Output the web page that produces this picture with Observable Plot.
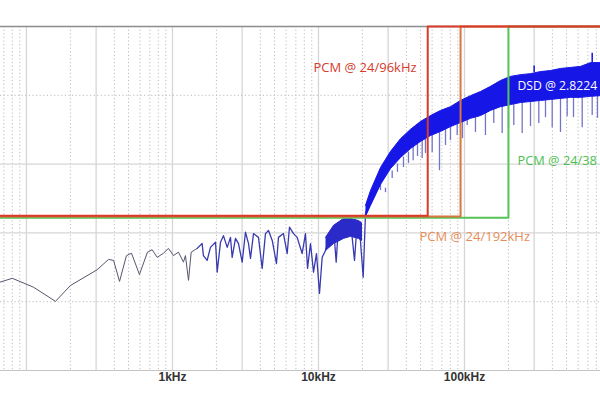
<!DOCTYPE html>
<html>
<head>
<meta charset="utf-8">
<script src="https://cdn.jsdelivr.net/npm/d3@7"></script>
<script src="https://cdn.jsdelivr.net/npm/@observablehq/plot@0.6"></script>
<style>
  html, body { margin: 0; padding: 0; background: #fff; }
  #chart { width: 600px; height: 400px; overflow: hidden; }
</style>
</head>
<body>
<div id="chart"></div>
<script>
// ---------- data (frequency in Hz, level in dB relative to top gridline) ----------
const tickValues = [1000, 10000, 100000];
const tickLabels = ["1kHz", "10kHz", "100kHz"];

// low-frequency part of the spectrum (thin trace)
const lowFreq = [66, 80, 112, 158, 200, 305, 365, 395, 434, 484, 524, 594, 674, 726, 786, 868, 939, 1016, 1099, 1189, 1227, 1288, 1343, 1477];
const lowDb   = [-74.3, -73.2, -75.8, -79.9, -75.3, -70.7, -67.7, -68.0, -74.1, -66.6, -65.9, -72.1, -65.6, -64.9, -67.1, -65.9, -64.5, -66.6, -65.6, -68.5, -66.6, -73.8, -65.6, -64.5];

// mid part (1.5 kHz – 22 kHz), noisy trace
const midFreq = [1477, 1596, 1629, 1728, 1820, 1972, 2024, 2133, 2235, 2371, 2496, 2563, 2702, 2833, 3002, 3162, 3318, 3423, 3589, 3882, 4115, 4335, 4546, 4822, 5156, 5322, 5754, 6106, 6330, 6745, 7145, 7728, 8147, 8414, 8818, 9247, 9690, 10160, 10600, 11170, 11700, 12670, 13220, 13710, 14830, 15730, 16560, 17650, 18410, 19100, 20240, 20990, 21990];
const midDb   = [-64.5, -63.1, -66.6, -68.0, -64.2, -62.7, -71.4, -62.7, -60.8, -64.2, -61.3, -67.1, -61.6, -63.1, -68.5, -59.8, -63.1, -67.4, -60.2, -61.3, -70.3, -60.2, -59.3, -62.2, -68.9, -61.3, -60.2, -66.0, -58.3, -60.2, -61.3, -66.0, -60.2, -70.3, -63.1, -71.4, -66.0, -77.6, -67.1, -65.1, -62.2, -58.3, -68.5, -57.8, -56.4, -59.3, -56.4, -68.0, -56.9, -58.7, -72.9, -54.4, -51.1];

// dense part of the mid trace (11 kHz – 20 kHz)
const midBandFreq  = [11170, 12670, 14830, 16560, 18790, 19700];
const midBandUpper = [-61.3, -57.8, -55.8, -55.8, -56.4, -57.0];
const midBandLower = [-65.1, -63.1, -61.6, -61.0, -61.6, -62.2];

// high-frequency noise band (DSD noise shaping), upper / lower edges
const bandFreq  = [20980, 22710, 26590, 31140, 36440, 42670, 49950, 58500, 68480, 80190, 93890, 109900, 128700, 150700, 176400, 206600, 241900, 283200, 331600, 388200, 454500, 532100, 623100, 729500, 854200];
const bandUpper = [-52.0, -47.7, -41.0, -36.3, -32.6, -29.9, -27.6, -25.9, -24.4, -23.3, -21.5, -20.1, -18.9, -17.4, -15.7, -14.5, -14.0, -13.7, -13.1, -12.8, -12.2, -11.9, -11.6, -10.5, -10.5];
const bandLower = [-55.2, -52.0, -45.9, -41.3, -38.1, -35.5, -33.4, -31.7, -30.5, -29.1, -27.9, -26.7, -25.9, -24.4, -23.3, -22.7, -22.1, -21.8, -21.5, -21.2, -20.9, -20.6, -20.6, -20.3, -20.1];

// downward spikes below the noise band
const spikeFreq   = [26590, 28760, 31980, 34760, 38210, 41340, 44510, 47660, 51320, 54050, 60090, 67420, 74130, 80190, 89130, 96890, 104350, 118900, 139200, 158700, 181200, 200200, 217600, 248400, 283200, 322900, 358800, 398800, 454500, 505100, 558000, 640000, 749400, 814700];
const spikeTop    = [-45.9, -47.0, -42.0, -40.0, -38.0, -36.5, -35.0, -34.3, -33.2, -32.5, -31.5, -30.6, -29.8, -29.1, -28.3, -27.7, -27.1, -26.3, -25.2, -24.0, -23.2, -22.8, -22.5, -22.0, -21.8, -21.5, -21.4, -21.1, -20.9, -20.7, -20.6, -20.6, -20.3, -20.1];
const spikeBottom = [-47.7, -48.3, -44.2, -42.4, -41.0, -39.8, -39.0, -37.8, -38.4, -36.9, -36.6, -41.9, -34.6, -33.1, -31.7, -32.6, -28.8, -30.8, -31.7, -28.2, -31.1, -29.7, -28.8, -31.1, -29.1, -28.2, -26.5, -29.4, -30.8, -26.2, -26.5, -29.4, -25.9, -26.7];
// upward spikes above the band
const upSpikeFreq = [749400, 300000];
const upSpikeTop  = [-7.8, -11.5];
const upSpikeBase = [-10.5, -13.4];

// PCM filter boxes
const boxNames  = ["PCM @ 24/96kHz", "PCM @ 24/192kHz", "PCM @ 24/384kHz"];
const boxCutoff = [56000, 94000, 200000];
const boxLevel  = [-55.0, -55.2, -55.6];

// annotations (the two right-hand ones are cut by the picture edge in the reference)
const noteText = ["PCM @ 24/96kHz", "PCM @ 24/192kHz", "PCM @ 24/38", "DSD @ 2.8224"];
const noteFreq = [9240, 49180, 230700, 230700];
const noteDb   = [-11.9, -61.0, -39.0, -17.2];

// ---------- styles ----------
const xDomain = [66.4, 854200];
const yDomain = [-100, 0];
const boxColors  = ["#d93b2b", "#d8773e", "#55c455"];
const noteColors = ["#d63a2c", "#e58d58", "#4fbf4f", "#ffffff"];
const noteSizes  = [13, 13, 12.8, 12.2];

// ---------- build tables ----------
const zip = (xs, ys) => xs.map((x, i) => ({x, y: ys[i]}));
const low = zip(lowFreq, lowDb);
const mid = zip(midFreq, midDb);
// closed outlines (upper edge forwards, lower edge backwards)
const outline = (xs, up, lo) => [
  ...xs.map((x, i) => ({x, y: up[i]})),
  ...xs.map((x, i) => ({x, y: lo[i]})).reverse()
];
const midBandPoly = outline(midBandFreq, midBandUpper, midBandLower);
const bandPoly = outline(bandFreq, bandUpper, bandLower);
const spikes = spikeFreq.map((x, i) => ({x, y1: spikeBottom[i], y2: spikeTop[i]}));
const upSpikes = upSpikeFreq.map((x, i) => ({x, y1: upSpikeBase[i], y2: upSpikeTop[i]}));

const decades = [10, 100, 1000, 10000, 100000];
const gridAll = decades.flatMap(d => [1,2,3,4,5,6,7,8,9].map(m => d * m)).filter(f => f > xDomain[0] && f < xDomain[1]);
const gridSolid = gridAll.filter(f => { const m = Math.round(f / Math.pow(10, Math.floor(Math.log10(f) + 1e-9))); return m === 1 || m === 3; });
const gridDotted = gridAll.filter(f => !gridSolid.includes(f));

const boxPaths = boxNames.map((name, i) => [
  {x: xDomain[0], y: boxLevel[i]},
  {x: boxCutoff[i], y: boxLevel[i]},
  {x: boxCutoff[i], y: yDomain[1]},
  {x: xDomain[1], y: yDomain[1]}
]);

const chart = Plot.plot({
  width: 600,
  height: 400,
  marginTop: 26,
  marginBottom: 30,
  marginLeft: 0,
  marginRight: 0,
  x: {type: "log", domain: xDomain},
  y: {domain: yDomain, axis: null},
  style: {background: "#fff", fontFamily: "Open Sans"},
  marks: [
    Plot.ruleX(gridDotted, {stroke: "#bcbcbc", strokeDasharray: "1.2,2.4", strokeWidth: 1}),
    Plot.ruleX(gridSolid, {stroke: "#d6d6d6", strokeWidth: 1.3}),
    Plot.ruleY([-20, -80], {stroke: "#bcbcbc", strokeDasharray: "1.2,2.4"}),
    Plot.ruleY([-40, -60], {stroke: "#d6d6d6", strokeWidth: 1.3}),
    Plot.ruleY([0], {stroke: "#8c8c8c", strokeWidth: 1.5}),
    Plot.ruleY([-100], {stroke: "#c4c4c4", strokeWidth: 1.2}),
    // spectrum
    Plot.line(low, {x: "x", y: "y", stroke: "#55566e", strokeWidth: 1, clip: true}),
    Plot.line(mid, {x: "x", y: "y", stroke: "#3a3ab0", strokeWidth: 1.3}),
    Plot.line(midBandPoly, {x: "x", y: "y", fill: "#2a2ac8", stroke: "#2a2ac8", strokeWidth: 1}),
    Plot.ruleX(spikes, {x: "x", y1: "y1", y2: "y2", stroke: "#7474c8", strokeWidth: 1.3}),
    Plot.line(bandPoly, {x: "x", y: "y", fill: "#1616e6", stroke: "#1616e6", strokeWidth: 1}),
    Plot.ruleX(upSpikes, {x: "x", y1: "y1", y2: "y2", stroke: "#1616e6", strokeWidth: 1.5}),
    // PCM boxes (green under orange under red)
    Plot.line(boxPaths[2], {x: "x", y: "y", stroke: boxColors[2], strokeWidth: 2}),
    Plot.line(boxPaths[1], {x: "x", y: "y", stroke: boxColors[1], strokeWidth: 2}),
    Plot.line(boxPaths[0], {x: "x", y: "y", stroke: boxColors[0], strokeWidth: 2}),
    // annotations
    ...noteText.map((t, i) => Plot.text([t], {
      x: () => noteFreq[i], y: () => noteDb[i], text: d => d,
      textAnchor: "start", fill: noteColors[i], fontSize: noteSizes[i], fontFamily: "Open Sans"
    })),
    Plot.axisX(tickValues, {
      tickFormat: d => tickLabels[tickValues.indexOf(d)],
      tickSize: 0, tickPadding: 2, fontSize: 12, fontWeight: "bold",
      fill: "#333", fontFamily: "Liberation Sans", label: null
    })
  ]
});
document.getElementById("chart").appendChild(chart);
</script>
</body>
</html>
